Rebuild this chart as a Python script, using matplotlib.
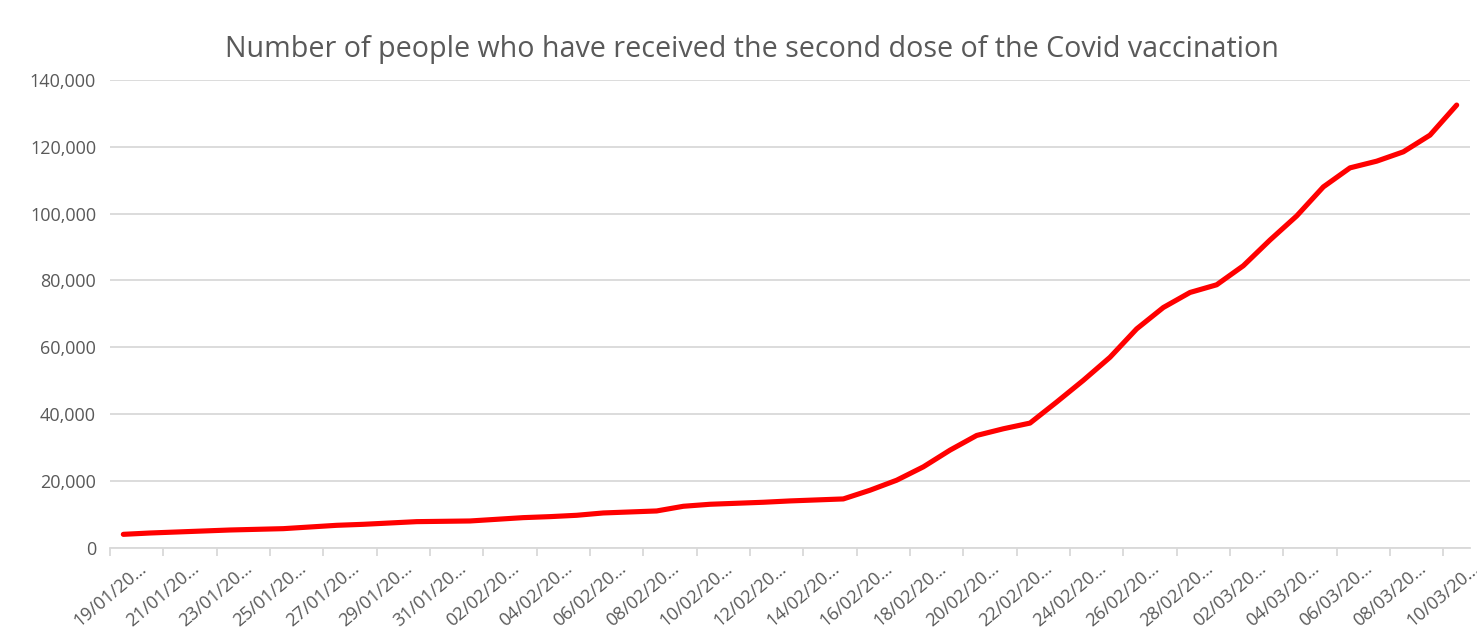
import numpy as np
import matplotlib
matplotlib.use("Agg")
import matplotlib.pyplot as plt
from matplotlib.ticker import FuncFormatter

plt.rcParams['font.family'] = ['Open Sans', 'DejaVu Sans']

# daily dates 19/01 -> 10/03 (category axis)
days = (["%02d/01" % d for d in range(19, 32)]
        + ["%02d/02" % d for d in range(1, 29)]
        + ["%02d/03" % d for d in range(1, 11)])

# second doses (cumulative)
second_dose = [4000, 4400, 4700, 5000, 5300, 5500, 5700, 6200, 6700, 7000,
               7400, 7800, 7900, 8000, 8500, 9000, 9300, 9700, 10400, 10700,
               11000, 12400, 13000, 13300, 13600, 14000, 14300, 14600, 17200, 20200,
               24200, 29200, 33600, 35600, 37300, 43600, 50100, 57000, 65500, 71900,
               76400, 78700, 84400, 92100, 99300, 108000, 113700, 115700, 118500, 123500,
               132500]

title = "Number of people who have received the second dose of the Covid vaccination"

grey = '#595959'
grid = '#d9d9d9'

fig = plt.figure(figsize=(14.77, 6.28), dpi=100)
ax = fig.add_axes([110/1477, 1-547.7/628, 1360/1477, (547.7-80)/628])

x = np.arange(len(days))
ax.plot(x, second_dose, color='#ff0000', lw=3.7, solid_capstyle='round', zorder=3)

ax.set_xlim(-0.5, len(days)-0.5)
ax.set_ylim(0, 140000)
ax.set_yticks(np.arange(0, 140001, 20000))
ax.yaxis.set_major_formatter(FuncFormatter(lambda v, p: f"{int(v):,}"))
ax.grid(axis='y', color=grid, lw=1.3)
ax.set_axisbelow(True)

# tick marks between categories, labels on every second category
ax.set_xticks(np.arange(-0.5, len(days)-1, 2))
ax.set_xticklabels([])
ax.tick_params(axis='x', length=6, color=grid, width=1.3)
ax.tick_params(axis='y', length=0, labelsize=13, labelcolor=grey, pad=10)
for i in range(0, len(days), 2):
    ax.text(i+0.55, -0.024, days[i] + "/20…", transform=ax.get_xaxis_transform(),
            rotation=40, ha='right', va='top', rotation_mode='anchor',
            fontsize=13, color=grey)

for s in ['top', 'right', 'left']:
    ax.spines[s].set_visible(False)
ax.spines['bottom'].set_color(grid)
ax.spines['bottom'].set_linewidth(1.3)

fig.text(752/1477, 1-50/628, title, ha='center', va='center', fontsize=20.6, color=grey)

fig.savefig("out.png", dpi=100)
